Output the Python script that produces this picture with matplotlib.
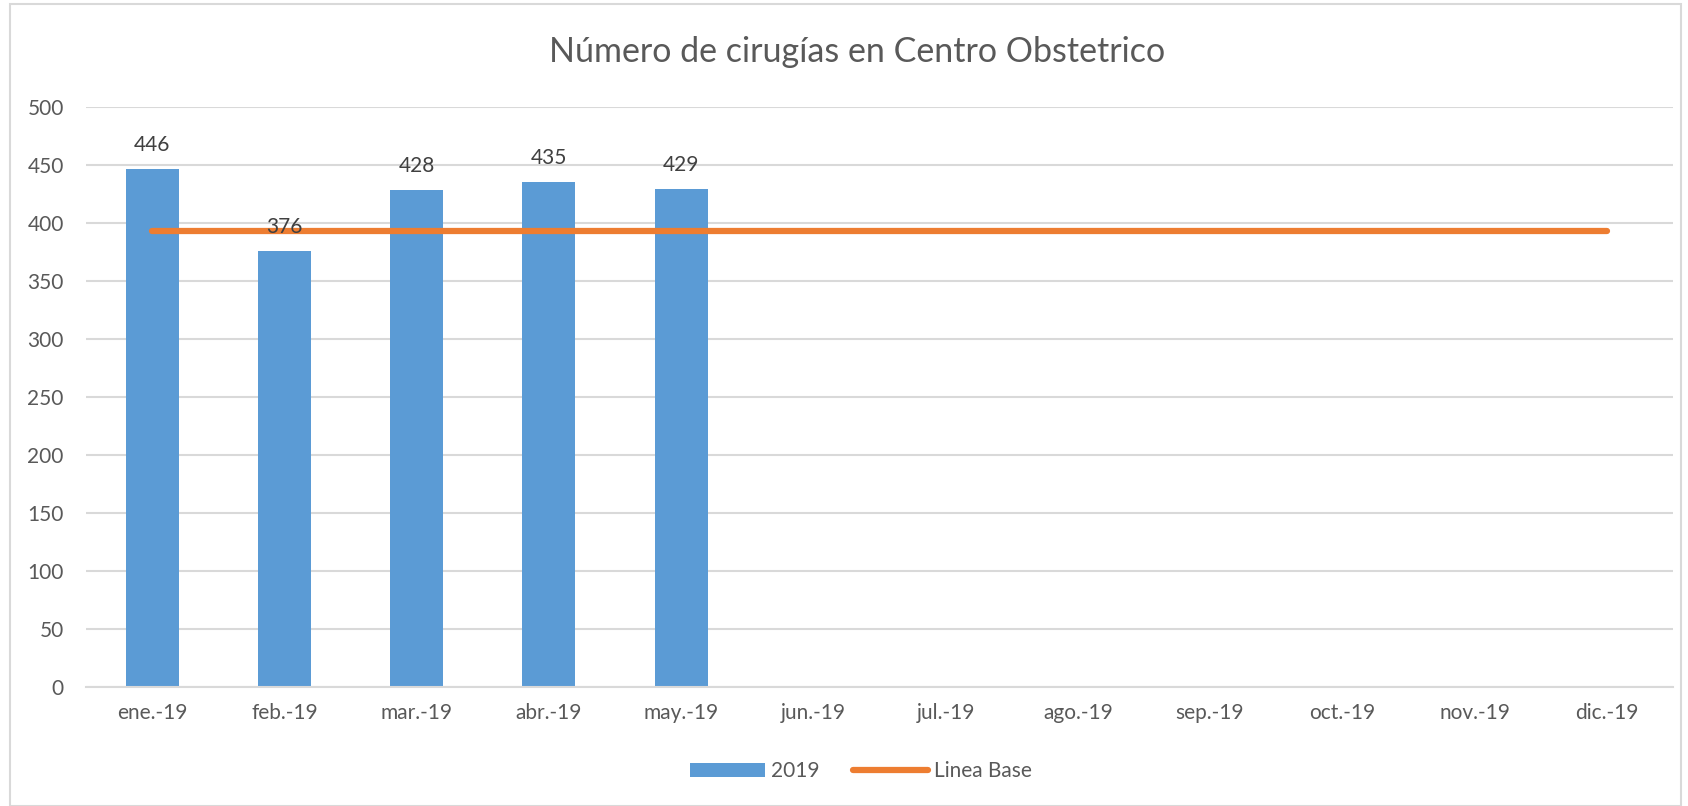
import matplotlib
matplotlib.use("Agg")
import matplotlib.pyplot as plt
import numpy as np
from matplotlib.patches import Rectangle

# Datos del grafico
meses = ['ene.-19', 'feb.-19', 'mar.-19', 'abr.-19', 'may.-19', 'jun.-19',
         'jul.-19', 'ago.-19', 'sep.-19', 'oct.-19', 'nov.-19', 'dic.-19']
cirugias_2019 = [446, 376, 428, 435, 429]
linea_base = [393] * 12

AZUL = '#5B9BD5'
NARANJA = '#ED7D31'
TEXTO = '#595959'
GRILLA = '#D9D9D9'

plt.rcParams['font.family'] = ['Lato', 'DejaVu Sans']

fig = plt.figure(figsize=(16.88, 8.06), dpi=100)
ax = fig.add_axes([0.051, 0.148, 0.940, 0.7196])

x = np.arange(len(meses))
barras = ax.bar(x[:len(cirugias_2019)], cirugias_2019, width=0.4, color=AZUL,
                label='2019', zorder=2)
linea, = ax.plot(x, linea_base, color=NARANJA, linewidth=4.5, solid_capstyle='round',
                 label='Linea Base', zorder=3)

# Etiquetas de datos
for xi, v in zip(x, cirugias_2019):
    ax.text(xi, v + 12, str(v), ha='center', va='bottom', fontsize=15, color='#404040')

ax.set_xlim(-0.5, len(meses) - 0.5)
ax.set_ylim(0, 500)
ax.set_yticks(np.arange(0, 501, 50))
ax.set_xticks(x)
ax.set_xticklabels(meses)
ax.tick_params(axis='both', length=0, labelsize=15, colors=TEXTO)
ax.tick_params(axis='x', pad=12)
ax.tick_params(axis='y', pad=16)
ax.yaxis.grid(True, color=GRILLA, linewidth=1.5, zorder=0)
ax.set_axisbelow(True)
for s in ['top', 'right', 'left']:
    ax.spines[s].set_visible(False)
ax.spines['bottom'].set_color(GRILLA)
ax.spines['bottom'].set_linewidth(1.5)

fig.text(0.508, 0.935, 'Número de cirugías en Centro Obstetrico', ha='center',
         va='center', fontsize=24.5, color=TEXTO)

fig.legend(handles=[barras, linea], loc='center', bbox_to_anchor=(0.51, 0.043),
           ncol=2, frameon=False, fontsize=15, labelcolor=TEXTO,
           handlelength=3.6, handleheight=0.6, handletextpad=0.3, columnspacing=1.6)

# Borde del area del grafico
fig.patches.append(Rectangle((0.006, 0.0), 0.99, 0.995, transform=fig.transFigure,
                             fill=False, edgecolor=GRILLA, linewidth=1.5))

plt.savefig('out.png', dpi=100)
plt.close()
